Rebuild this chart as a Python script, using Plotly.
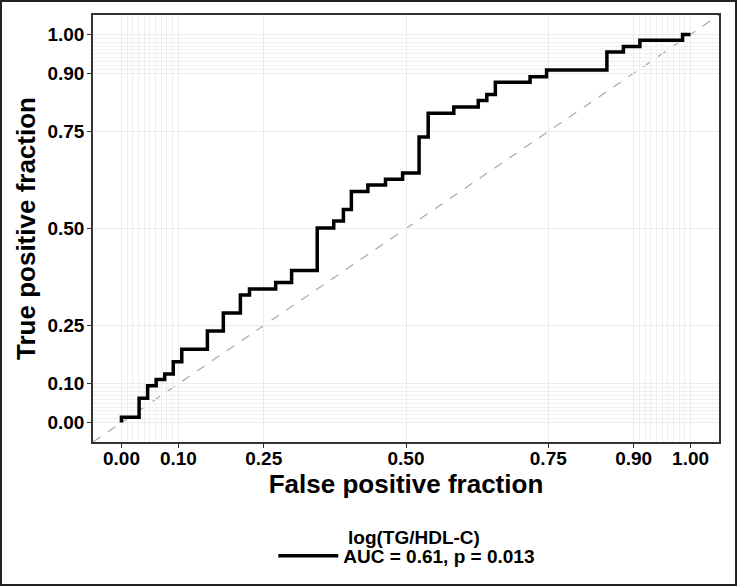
import plotly.graph_objects as go

# ROC curve vertices (false positive fraction, true positive fraction)
fpf = [0.000, 0.031, 0.046, 0.061, 0.076, 0.091, 0.106, 0.151, 0.179, 0.209,
       0.225, 0.271, 0.299, 0.344, 0.373, 0.390, 0.404, 0.433, 0.464, 0.494,
       0.523, 0.539, 0.584, 0.627, 0.642, 0.657, 0.718, 0.747, 0.853, 0.882,
       0.911, 0.986, 1.000]
tpf = [0.000, 0.014, 0.063, 0.095, 0.111, 0.125, 0.157, 0.189, 0.236, 0.282,
       0.329, 0.344, 0.361, 0.392, 0.501, 0.519, 0.549, 0.595, 0.612, 0.627,
       0.643, 0.736, 0.797, 0.813, 0.830, 0.845, 0.877, 0.891, 0.908, 0.955,
       0.969, 0.985, 1.000]

major_ticks = [0.0, 0.1, 0.25, 0.5, 0.75, 0.9, 1.0]
tick_labels = ["0.00", "0.10", "0.25", "0.50", "0.75", "0.90", "1.00"]
minor_ticks = [i / 100 for i in range(0, 11)] + [0.9 + i / 100 for i in range(0, 11)]

legend_title = "log(TG/HDL-C)"
series_name = "AUC = 0.61, p = 0.013"
axis_range = [-0.05, 1.05]

FONT = "Liberation Sans, Arial, sans-serif"

fig = go.Figure()
fig.add_trace(go.Scatter(
    x=fpf, y=tpf, mode="lines", line=dict(color="black", width=3.5, shape="vh"),
    name=series_name, showlegend=True,
))

axis_common = dict(
    range=axis_range, automargin=False,
    tickmode="array", tickvals=major_ticks, ticktext=tick_labels,
    showgrid=True, gridcolor="#EBEBEB", gridwidth=1,
    minor=dict(tickmode="array", tickvals=minor_ticks, showgrid=True,
               gridcolor="#EFEFEF", gridwidth=0.7, ticks=""),
    showline=True, linecolor="#333333", linewidth=1.5, mirror=True,
    ticks="outside", ticklen=4, tickwidth=1, tickcolor="#333333",
    tickfont=dict(family=FONT, size=19, color="black", weight="bold"),
    zeroline=False,
)

fig.update_xaxes(**axis_common, ticklabelstandoff=-6,
                 title=dict(text="<b>False positive fraction</b>",
                            font=dict(family=FONT, size=26, color="black"),
                            standoff=2))
fig.update_yaxes(**axis_common, ticklabelstandoff=-1,
                 title=dict(text="<b>True positive fraction</b>",
                            font=dict(family=FONT, size=26, color="black"),
                            standoff=4))

# diagonal reference line
fig.add_shape(type="line", xref="x", yref="y",
              x0=axis_range[0], y0=axis_range[0], x1=axis_range[1], y1=axis_range[1],
              line=dict(color="#A8A8A8", width=1.2, dash="dash"), layer="below")

# outer figure frame
fig.add_shape(type="rect", xref="paper", yref="paper",
              x0=-0.1470, x1=1.0272, y0=-0.3349, y1=1.0328,
              line=dict(color="#222222", width=2), fillcolor="rgba(0,0,0,0)")

# legend title (drawn above the legend entry, aligned with its label)
fig.add_annotation(text="<b>" + legend_title + "</b>", xref="paper", yref="paper",
                   x=0.404, y=-0.2225, xanchor="left", yanchor="middle",
                   showarrow=False, font=dict(family=FONT, size=19, color="black"))

fig.update_layout(
    width=737, height=586,
    margin=dict(l=93, r=18, t=15, b=144, autoexpand=False),
    paper_bgcolor="white", plot_bgcolor="white",
    showlegend=True,
    legend=dict(orientation="h", x=0.288, xanchor="left", y=-0.222, yanchor="top",
                itemwidth=60,
                font=dict(family=FONT, size=19, color="black", weight="bold"),
                bgcolor="rgba(0,0,0,0)"),
)

fig.write_html("out.html", config={"displayModeBar": False},
               post_script="document.body.style.margin='0';document.body.style.overflow='hidden';")
